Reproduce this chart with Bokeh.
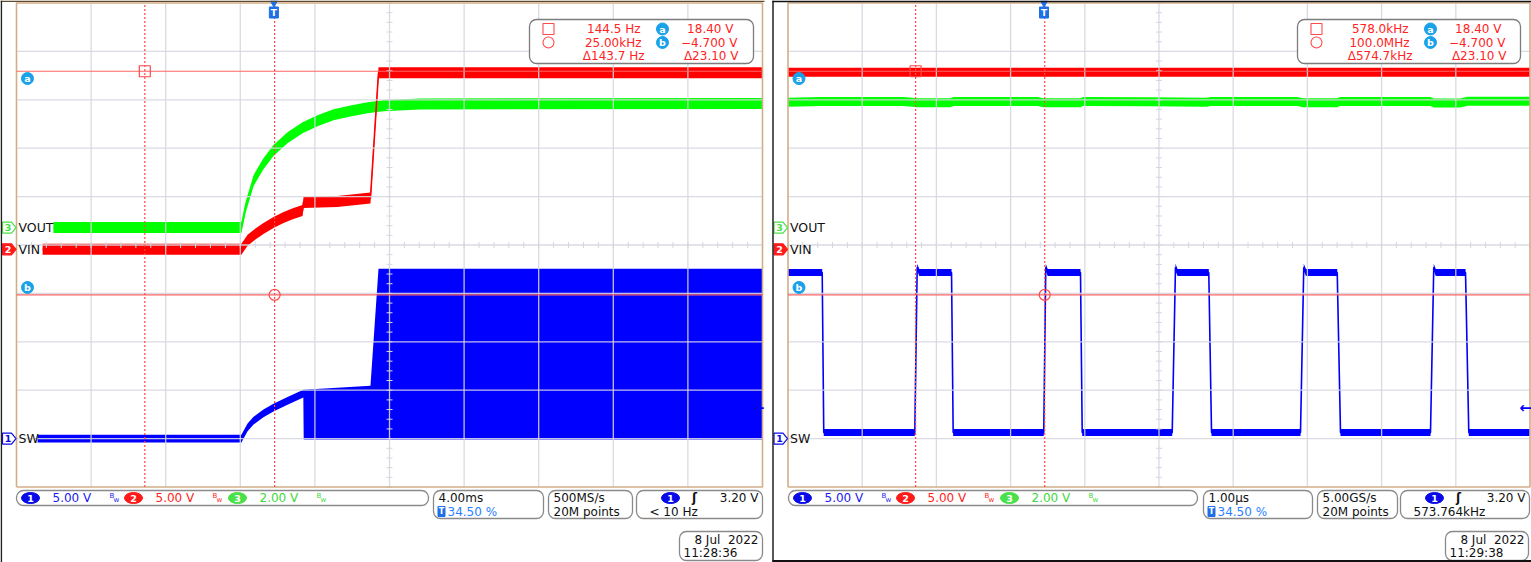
import numpy as np
from bokeh.plotting import figure
from bokeh.layouts import row
from bokeh.models import Range1d
from bokeh.core.properties import value
from bokeh.embed import file_html
from bokeh.resources import INLINE

# ============================ DATA ============================
CHANNELS = ["SW", "VIN", "VOUT"]
CH_NUMBER = {"SW": "1", "VIN": "2", "VOUT": "3"}
VOLTS_PER_DIV = {"SW": 5.0, "VIN": 5.0, "VOUT": 2.0}
GROUND_DIV = {"SW": -4.0, "VIN": -0.09, "VOUT": 0.36}      # channel ground markers (div from centre)
TRIGGER_POSITION = 0.345                                     # 34.50 %
TRIGGER_LEVEL_V = 3.20
CURSOR_A_V = 18.40
CURSOR_B_V = -4.700
CURSOR_DELTA_V = 23.10

# ---- capture 1 : 4.00 ms/div, time in ms from trigger ----
C1_TIME_PER_DIV = 4.0
C1_VIN_T = [-12.4, -1.74, -1.41, -1.09, -0.56, -0.02, 0.52, 1.05, 1.54, 1.59, 3.4, 5.18, 5.61, 26.2]
C1_VIN_V = [0.0, 0.0, 0.93, 1.44, 2.16, 2.78, 3.30, 3.71, 4.02, 4.85, 4.95, 5.30, 18.25, 18.25]
C1_VOUT_T = [-11.82, -1.74, -1.52, -1.09, -0.56, -0.02, 0.73, 1.54, 2.34, 3.20, 4.11, 5.02, 5.88, 7.86, 26.2]
C1_VOUT_V = [0.0, 0.0, 0.82, 1.94, 2.64, 3.18, 3.71, 4.12, 4.41, 4.66, 4.82, 4.95, 5.03, 5.11, 5.13]
C1_SW_T = [-12.67, -1.74, -1.41, -1.09, -0.56, -0.02, 0.73, 1.58, 1.60, 5.18, 5.61, 26.2]
C1_SW_HI = [0.4, 0.4, 1.55, 2.25, 3.0, 3.6, 4.3, 5.05, 5.05, 5.45, 17.55, 17.55]
C1_SW_LO = [-0.4, -0.4, 0.75, 1.45, 2.2, 2.8, 3.5, 4.25, -0.1, -0.1, -0.1, -0.1]
C1_CURSOR_T = [-6.92, 0.04]
C1_READOUT = ["144.5 Hz", "25.00kHz", "\u0394143.7 Hz"]
C1_TIMEBASE = "4.00ms"
C1_SAMPLING = ["500MS/s", "20M points"]
C1_TRIG_INFO = "< 10 Hz"
C1_DATE = ["8 Jul\u00a0 2022", "11:28:36"]

# ---- capture 2 : 1.00 us/div, time in us from trigger ----
C2_TIME_PER_DIV = 1.0
C2_VIN_T = [-3.45, 6.55]
C2_VIN_V = [18.3, 18.3]
C2_VOUT_T = [-3.45, -3.01, -1.89, -1.705, -1.26, -1.22, -0.088, -0.007, 0.49, 0.53, 1.43,
             2.2, 2.24, 3.41, 3.49, 3.95, 3.99, 5.21, 5.25, 5.61, 5.71, 6.55]
C2_VOUT_V = [5.18, 5.21, 5.21, 5.16, 5.16, 5.21, 5.21, 5.16, 5.16, 5.21, 5.20,
             5.18, 5.21, 5.21, 5.16, 5.16, 5.21, 5.21, 5.15, 5.15, 5.22, 5.22]
C2_SW_T = [-3.45, -2.989, -2.968, -1.741, -1.709, -1.68, -1.246, -1.224, -0.003, 0.024, 0.05,
           0.492, 0.515, 1.728, 1.772, 1.80, 2.221, 2.258, 3.457, 3.501, 3.53, 3.952, 3.996,
           5.209, 5.253, 5.28, 5.681, 5.725, 6.55]
C2_SW_V = [17.15, 17.15, 0.62, 0.62, 17.7, 17.15, 17.15, 0.62, 0.62, 17.7, 17.15,
           17.15, 0.62, 0.62, 17.7, 17.15, 17.15, 0.62, 0.62, 17.7, 17.15, 17.15, 0.62,
           0.62, 17.7, 17.15, 17.15, 0.62, 0.62]
C2_CURSOR_T = [-1.730, 0.010]
C2_READOUT = ["578.0kHz", "100.0MHz", "\u0394574.7kHz"]
C2_TIMEBASE = "1.00\u00b5s"
C2_SAMPLING = ["5.00GS/s", "20M points"]
C2_TRIG_INFO = "573.764kHz"
C2_DATE = ["8 Jul\u00a0 2022", "11:29:38"]

# ============================ STYLE / LAYOUT ============================
REF_W, REF_H = 1531, 562
PAGE_H = 562
GRID_TOP = 2.5
DIV_PX = 48.4
FONT = "DejaVu Sans"
FS = 12
COL = {"SW": "#0000ff", "VIN": "#ff0000", "VOUT": "#00ff00"}
TXT = {"SW": "#1a1af0", "VIN": "#ff2424", "VOUT": "#3cd83c"}
PILL = {"SW": "#0a0ae8", "VIN": "#ff1a1a", "VOUT": "#4ae04a"}
CURSOR = "#ff4a4a"
CYAN = "#19a2ea"
TBLUE = "#1f6fe6"
GRID = "#d6d6e0"
BORDER = "#d2ae88"

LEFT = dict(ref_x0=0, ref_x1=770, grid_left=16, dx=74.6, width=770,
            readout=(529, 753), ch_box=(16, 428), time_box=(433, 543),
            samp_box=(548, 632), trig_box=(636, 762), date_box=(679, 762))
RIGHT = dict(ref_x0=770, ref_x1=1531, grid_left=787.5, dx=74.2, width=761,
             readout=(1297, 1520), ch_box=(788, 1197), time_box=(1203, 1312),
             samp_box=(1317, 1397), trig_box=(1400, 1529), date_box=(1445, 1528))


def build(cfg, cap):
    gl, dx = cfg["grid_left"], cfg["dx"]

    def X(px):
        return (np.asarray(px, dtype=float) - gl) / dx

    def Y(py):
        return 5.0 - (np.asarray(py, dtype=float) - GRID_TOP) / DIV_PX

    def hx(px):
        return px / dx

    def hy(px):
        return px / DIV_PX

    tpd = cap["tpd"]

    def tx(t):
        return TRIGGER_POSITION * 10 + np.asarray(t, dtype=float) / tpd

    def vy(v, ch):
        return GROUND_DIV[ch] + np.asarray(v, dtype=float) / VOLTS_PER_DIV[ch]

    p = figure(width=cfg["width"], height=PAGE_H,
               x_range=Range1d(float(X(cfg["ref_x0"])), float(X(cfg["ref_x1"]))),
               y_range=Range1d(float(Y(REF_H)), float(Y(0))),
               x_axis_type=None, y_axis_type=None, toolbar_location=None,
               output_backend="svg", min_border=0)
    p.outline_line_color = None
    p.background_fill_color = "white"
    p.border_fill_color = "white"

    def txt(x, y, s, color, size=FS, align="left", style="normal"):
        p.text(x=[float(x)], y=[float(y)], text=[s], text_color=color,
               text_font=value(FONT), text_font_size=value(f"{size}px"),
               text_align=align, text_baseline="middle", text_font_style=style)

    def band(x, y, half_px, color):
        h = hy(half_px)
        p.varea(x=x, y1=y - h, y2=y + h, fill_color=color)
        p.line(x=x, y=y, line_color=color, line_width=1.6)

    # ---------------- traces ----------------
    if "SW_HI" in cap:
        p.varea(x=tx(cap["SW_T"]), y1=vy(cap["SW_LO"], "SW"), y2=vy(cap["SW_HI"], "SW"),
                fill_color=COL["SW"])
    else:
        band(tx(cap["SW_T"]), vy(cap["SW_V"], "SW"), 3.5, COL["SW"])
    band(tx(cap["VOUT_T"]), vy(cap["VOUT_V"], "VOUT"), cap["band"], COL["VOUT"])
    band(tx(cap["VIN_T"]), vy(cap["VIN_V"], "VIN"), cap["band"], COL["VIN"])

    # ---------------- graticule ----------------
    gx = np.arange(1, 10)
    p.segment(x0=gx, y0=-5, x1=gx, y1=5, line_color=GRID, line_width=1.3, line_alpha=0.9)
    gy = np.arange(-4, 5)
    p.segment(x0=0, y0=gy, x1=10, y1=gy, line_color=GRID, line_width=1.3, line_alpha=0.9)
    mt_y = np.arange(-5, 5.001, 0.2)
    p.segment(x0=5 - hx(3), y0=mt_y, x1=5 + hx(3), y1=mt_y, line_color=GRID, line_width=1)
    mt_x = np.arange(0, 10.001, 0.2)
    p.segment(x0=mt_x, y0=-hy(3), x1=mt_x, y1=hy(3), line_color=GRID, line_width=1)
    p.line(x=[0, 10, 10, 0, 0], y=[-5, -5, 5, 5, -5], line_color=BORDER, line_width=1.6)

    # ---------------- cursors ----------------
    ya = float(vy(CURSOR_A_V, "VIN"))
    yb = float(vy(CURSOR_B_V, "VIN"))
    p.segment(x0=0, y0=[ya, yb], x1=10, y1=[ya, yb], line_color="#ff6464", line_width=1.1)
    cx = tx(cap["cursor_t"])
    p.segment(x0=cx, y0=-5, x1=cx, y1=5, line_color=CURSOR, line_width=1.2, line_dash="2 2")
    p.scatter(x=[cx[0]], y=[ya], marker="square", size=11, fill_color=None,
              line_color=CURSOR, line_width=1.2)
    p.scatter(x=[cx[1]], y=[yb], marker="circle", size=11, fill_color=None,
              line_color=CURSOR, line_width=1.2)
    bx = float(X(gl + 11))
    for yy, s in [(ya - hy(7.3), "a"), (yb + hy(7.4), "b")]:
        p.scatter(x=[bx], y=[yy], marker="circle", size=12, fill_color=CYAN, line_color=CYAN)
        txt(bx, yy, s, "white", size=9.5, align="center", style="bold")

    # trigger marker at top
    trx = TRIGGER_POSITION * 10
    p.scatter(x=[trx], y=[float(Y(2.5))], marker="inverted_triangle", size=7,
              fill_color=TBLUE, line_color=TBLUE)
    p.rect(x=[trx], y=[float(Y(12))], width=9, height=11, width_units="screen",
           height_units="screen", fill_color=TBLUE, line_color=TBLUE)
    txt(trx, float(Y(12)), "T", "white", size=9, align="center", style="bold")
    # trigger level arrow
    txt(10 - hx(4.5), float(vy(TRIGGER_LEVEL_V, "SW")), "\u2190", COL["SW"], size=15,
        align="center", style="bold")

    # ---------------- channel ground labels ----------------
    names = {"SW": "SW", "VIN": "VIN", "VOUT": "VOUT"}
    for ch in CHANNELS:
        yc = GROUND_DIV[ch]
        xs = X([gl - 14, gl - 5, gl - 0.5, gl - 5, gl - 14])
        ys = yc + hy(np.array([-5.5, -5.5, 0, 5.5, 5.5]))
        filled = ch == "VIN"
        p.patch(x=xs, y=ys, fill_color=PILL[ch] if filled else "white",
                line_color=PILL[ch], line_width=1.2)
        txt(float(X(gl - 8.5)), yc, CH_NUMBER[ch], "white" if filled else PILL[ch],
            size=9.5, align="center", style="bold")
        txt(float(X(gl + 2)), yc, names[ch], "#111111", size=12.5)

    # ---------------- cursor readout box ----------------
    r0, r1 = cfg["readout"]
    p.quad(left=[float(X(r0))], right=[float(X(r1))], top=[float(Y(19))], bottom=[float(Y(63))],
           fill_color="white", line_color="#7c7c7c", line_width=1.3, border_radius=7)
    rows = [float(Y(28.5)), float(Y(42)), float(Y(55.5))]
    p.scatter(x=[float(X(r0 + 19))], y=[rows[0]], marker="square", size=11, fill_color=None,
              line_color=CURSOR, line_width=1.1)
    p.scatter(x=[float(X(r0 + 19))], y=[rows[1]], marker="circle", size=11, fill_color=None,
              line_color=CURSOR, line_width=1.1)
    rd = cap["readout"]
    txt(float(X(r0 + 111)), rows[0], rd[0], TXT["VIN"], align="right")
    txt(float(X(r0 + 112)), rows[1], rd[1], TXT["VIN"], align="right")
    txt(float(X(r0 + 115)), rows[2], rd[2], TXT["VIN"], align="right")
    for yy, s in [(rows[0], "a"), (rows[1], "b")]:
        p.scatter(x=[float(X(r0 + 133))], y=[yy], marker="circle", size=12,
                  fill_color=CYAN, line_color=CYAN)
        txt(float(X(r0 + 133)), yy, s, "white", size=9.5, align="center", style="bold")
    txt(float(X(r0 + 204)), rows[0], f"{CURSOR_A_V:.2f} V", TXT["VIN"], align="right")
    txt(float(X(r0 + 208)), rows[1], f"\u2212{abs(CURSOR_B_V):.3f} V", TXT["VIN"], align="right")
    txt(float(X(r0 + 209)), rows[2], f"\u0394{CURSOR_DELTA_V:.2f} V", TXT["VIN"], align="right")

    # ---------------- bottom info boxes ----------------
    def box(b0, b1, t, bt):
        p.quad(left=[float(X(b0))], right=[float(X(b1))], top=[float(Y(t))], bottom=[float(Y(bt))],
               fill_color="white", line_color="#8a8a8a", line_width=1.3, border_radius=7)

    def pill(xc, yc, s, ch):
        p.ellipse(x=[float(X(xc))], y=[yc], width=18, height=11, width_units="screen",
                  height_units="screen", fill_color=PILL[ch], line_color=PILL[ch])
        txt(float(X(xc)), yc, s, "white", size=9.5, align="center", style="bold")

    c0, c1 = cfg["ch_box"]
    box(c0, c1, 490, 505)
    r_a = float(Y(497.5))
    r_b = float(Y(511))
    for i, ch in enumerate(CHANNELS):
        off = c0 + 103 * i + (1 if i == 2 else 0)
        pill(off + 14, r_a, CH_NUMBER[ch], ch)
        txt(float(X(off + 36)), r_a, f"{VOLTS_PER_DIV[ch]:.2f} V", TXT[ch])
        txt(float(X(off + 93)), r_a + hy(2.5), "B", TXT[ch], size=7)
        txt(float(X(off + 97)), r_a - hy(2), "w", TXT[ch], size=7)

    t0, t1 = cfg["time_box"]
    box(t0, t1, 490, 518)
    txt(float(X(t0 + 5)), r_a, cap["timebase"], "#111111")
    p.rect(x=[float(X(t0 + 8))], y=[r_b], width=7, height=10, width_units="screen",
           height_units="screen", fill_color=TBLUE, line_color=TBLUE)
    txt(float(X(t0 + 8)), r_b, "T", "white", size=8, align="center", style="bold")
    txt(float(X(t0 + 14)), r_b, f"{TRIGGER_POSITION * 100:.2f} %", "#2a7fff")

    s0, s1 = cfg["samp_box"]
    box(s0, s1, 490, 518)
    txt(float(X(s0 + 5)), r_a, cap["sampling"][0], "#111111")
    txt(float(X(s0 + 5)), r_b, cap["sampling"][1], "#111111")

    g0, g1 = cfg["trig_box"]
    box(g0, g1, 490, 518)
    pill(g0 + 34, r_a, "1", "SW")
    txt(float(X(g0 + 58)), r_a, "\u0283", "#111111", size=12, align="center", style="bold")
    txt(float(X(g1 - 4)), r_a, f"{TRIGGER_LEVEL_V:.2f} V", "#111111", align="right")
    txt(float(X(g0 + 13)), r_b, cap["trig_info"], "#111111")

    d0, d1 = cfg["date_box"]
    box(d0, d1, 531, 560)
    txt(float(X(d1 - 4)), float(Y(539)), cap["date"][0], "#111111", align="right")
    txt(float(X(d0 + 4)), float(Y(552.5)), cap["date"][1], "#111111")

    return p, X, Y


# ---------------- build panels ----------------
cap1 = dict(tpd=C1_TIME_PER_DIV, VIN_T=C1_VIN_T, VIN_V=C1_VIN_V, VOUT_T=C1_VOUT_T, VOUT_V=C1_VOUT_V,
            SW_T=C1_SW_T, SW_HI=C1_SW_HI, SW_LO=C1_SW_LO, cursor_t=C1_CURSOR_T, band=5.5,
            readout=C1_READOUT, timebase=C1_TIMEBASE, sampling=C1_SAMPLING,
            trig_info=C1_TRIG_INFO, date=C1_DATE)
cap2 = dict(tpd=C2_TIME_PER_DIV, VIN_T=C2_VIN_T, VIN_V=C2_VIN_V, VOUT_T=C2_VOUT_T, VOUT_V=C2_VOUT_V,
            SW_T=C2_SW_T, SW_V=C2_SW_V, cursor_t=C2_CURSOR_T, band=4.5,
            readout=C2_READOUT, timebase=C2_TIMEBASE, sampling=C2_SAMPLING,
            trig_info=C2_TRIG_INFO, date=C2_DATE)

p1, X1, Y1 = build(LEFT, cap1)
p2, X2, Y2 = build(RIGHT, cap2)

# screenshot frame lines
p1.segment(x0=[float(X1(0))], y0=[float(Y1(0.8))], x1=[float(X1(764))], y1=[float(Y1(0.8))],
           line_color="#5c4a30", line_width=1.6)
p1.segment(x0=[float(X1(0.8))], y0=[float(Y1(0))], x1=[float(X1(0.8))], y1=[float(Y1(562))],
           line_color="#202020", line_width=1.6)
p2.segment(x0=[float(X2(772.5))], y0=[float(Y2(0))], x1=[float(X2(772.5))], y1=[float(Y2(562))],
           line_color="#202020", line_width=1.5)
p2.segment(x0=[float(X2(772))] * 2, y0=[float(Y2(0.8)), float(Y2(560.5))],
           x1=[float(X2(1531))] * 2, y1=[float(Y2(0.8)), float(Y2(560.5))],
           line_color="#111111", line_width=1.8)

layout = row(p1, p2, spacing=0)
open("out.html", "w").write(file_html(layout, INLINE))
